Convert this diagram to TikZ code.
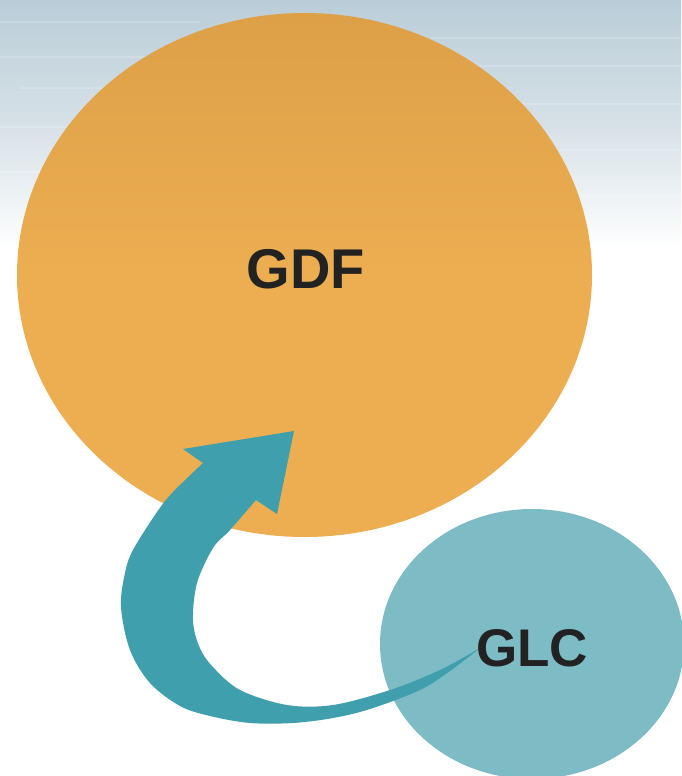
\documentclass[tikz,border=0pt]{standalone}
\usepackage{fontspec}
\setmainfont{Liberation Sans}
\usetikzlibrary{shapes.geometric}
\definecolor{gdforange}{HTML}{EDAE52}
\definecolor{gdftop}{HTML}{DDA047}
\definecolor{glcteal}{HTML}{7DBCC5}
\definecolor{arrowteal}{HTML}{3F9FAC}
\definecolor{skytop}{HTML}{BACDD8}
\definecolor{skymid}{HTML}{D6E1E7}
\definecolor{labeltext}{HTML}{222222}
\tikzset{
  blob/.style={ellipse, inner sep=0pt, draw=none},
  biglabel/.style={font=\bfseries\fontsize{53}{60}\selectfont, text=labeltext, inner sep=0pt},
  streak/.style={white, opacity=0.18, line width=1.2pt}
}
\begin{document}
\begin{tikzpicture}[x=1pt,y=-1pt]
\useasboundingbox (0,0) rectangle (681,776);
\fill[white] (0,0) rectangle (681,776);
% sky background
\shade[top color=skytop, bottom color=white, middle color=skymid] (0,0) rectangle (681,250);
\foreach \yy/\xa/\xb in {22/0/200, 38/430/681, 57/0/150, 66/470/681, 88/20/190, 104/520/681, 127/0/120, 150/540/681, 172/0/90, 196/580/681}
  \draw[streak] (\xa,\yy) -- (\xb,\yy);
% GDF ellipse
\node[blob, minimum width=575pt, minimum height=524pt, top color=gdftop, bottom color=gdforange, middle color=gdforange] (gdf) at (304.5,275) {};
\node[biglabel, font=\bfseries\fontsize{56}{62}\selectfont] (gdflabel) at (306,269) {GDF};
% GLC ellipse
\node[blob, fill=glcteal, minimum width=304pt, minimum height=270pt] (glc) at (532,644) {};
% curved arrow from GLC into GDF
\coordinate (tail) at (480,648);
\coordinate (tip) at (294,431);
\fill[arrowteal]
  plot[smooth, tension=0.55] coordinates {(480,648) (450,671) (420,690) (370,709) (333,718) (293,723) (250,723) (210,716) (180,706) (150,683) (130,650) (121,607) (125,573) (133,550) (157,512) (173,492) (203,463)}
  -- (183,449) -- (tip) -- (277,514) -- (256,500)
  -- plot[smooth, tension=0.55] coordinates {(256,500) (230,530) (213,548) (197,583) (193,620) (199,646) (212,666) (240,690) (287,705) (333,705) (390,690) (440,670) (480,648)}
  -- cycle;
\node[biglabel] (glclabel) at (532,648) {GLC};
\end{tikzpicture}
\end{document}
